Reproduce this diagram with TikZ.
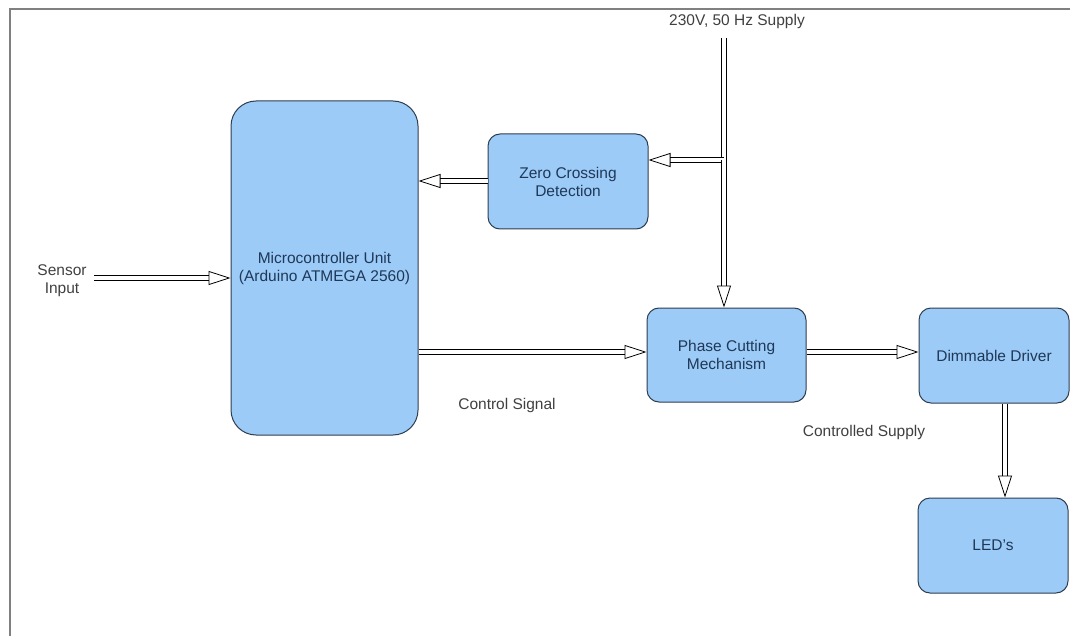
\documentclass[tikz,border=0pt]{standalone}
\usepackage{fontspec}
\setmainfont{Liberation Sans}
\usetikzlibrary{arrows.meta,positioning}
\definecolor{boxfill}{HTML}{9CCBF8}
\definecolor{boxline}{HTML}{2E3D4F}
\definecolor{boxtext}{HTML}{1F3857}
\tikzset{
  block/.style={draw=boxline, fill=boxfill, line width=1pt, rounded corners=12pt,
    text=boxtext, align=center, font=\fontsize{15.5}{18}\selectfont},
  flow/.style={draw=black, line width=0.8pt, double=white, double distance=4.5pt,
    -{Triangle[open, length=22pt, width=14pt, line width=0.8pt]}},
  note/.style={text=black!75, align=center, font=\fontsize{15.5}{18}\selectfont}
}
\begin{document}
\begin{tikzpicture}[x=1pt, y=-1pt]
  \useasboundingbox (0,0) rectangle (1070,636);
  % Rahmen
  \draw[gray, line width=2pt] (10,636) -- (10,9) -- (1070,9);

  % Bloecke
  \node[block, rounded corners=25pt, minimum width=187pt, minimum height=334pt] (mcu) at (324.5,268)
    {Microcontroller Unit\\(Arduino ATMEGA 2560)};
  \node[block, minimum width=160pt, minimum height=95pt] (zcd) at (568,181.5)
    {Zero Crossing\\Detection};
  \node[block, minimum width=159pt, minimum height=94pt] (pcm) at (726.5,355)
    {Phase Cutting\\Mechanism};
  \node[block, minimum width=150pt, minimum height=95pt] (drv) at (994,355.5)
    {Dimmable Driver};
  \node[block, minimum width=150pt, minimum height=95pt] (led) at (993,545.5)
    {LED's};

  % Beschriftungen
  \node[note] (supply) at (737,21) {230V, 50 Hz Supply};
  \node[note] (sensor) at (62,281) {Sensor\\Input};
  \node[note] (ctrl) at (507,405) {Control Signal};
  \node[note] (csup) at (864,432) {Controlled Supply};

  % Hilfspunkte
  \coordinate (stop) at (724,38);
  \coordinate (tap) at (724,160);
  \coordinate (sin) at (94,278);

  % Pfeile
  \draw[flow] (sin) -- (sin -| mcu.west);
  \draw[flow] (zcd.west |- 0,181) -- (mcu.east |- 0,181);
  \draw[draw=black, line width=0.8pt, double=white, double distance=4.5pt] (stop) -- (tap);
  \draw[flow] (tap) -- (tap -| zcd.east);
  \draw[flow] (tap) -- (tap |- pcm.north);
  \draw[flow] (mcu.east |- 0,352) -- (pcm.west |- 0,352);
  \draw[flow] (pcm.east |- 0,352) -- (drv.west |- 0,352);
  \draw[flow] (drv.south -| 1005,0) -- (led.north -| 1005,0);
\end{tikzpicture}
\end{document}
